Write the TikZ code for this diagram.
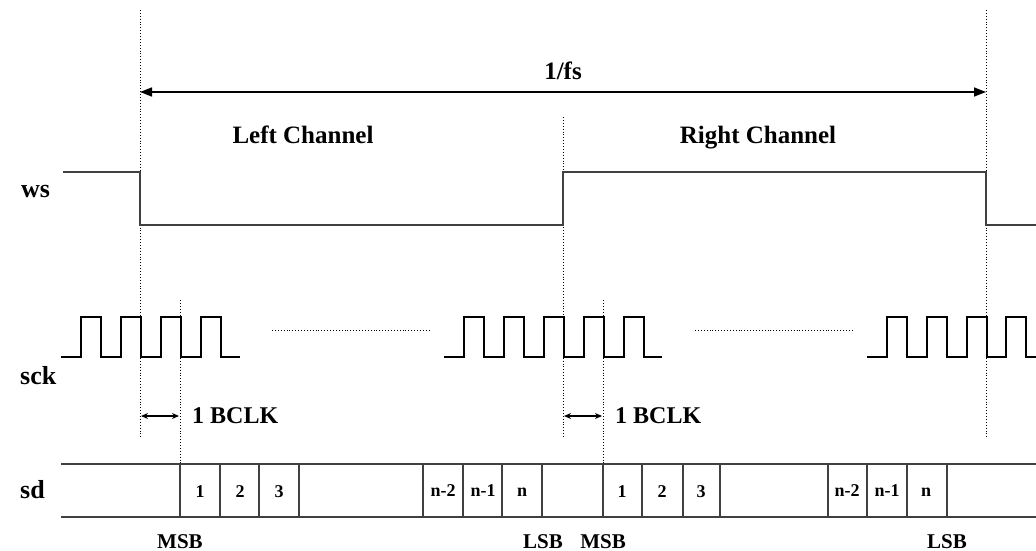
\documentclass[tikz,border=0pt]{standalone}
\usepackage{fontspec}
\setmainfont{Liberation Serif}
\usetikzlibrary{arrows.meta}
\begin{document}
\begin{tikzpicture}[x=1pt,y=-1pt,
  lbl/.style={font=\bfseries\fontsize{25}{28}\selectfont, inner sep=0pt, anchor=base},
  sig/.style={font=\bfseries\fontsize{26}{30}\selectfont, inner sep=0pt, anchor=base west},
  bclk/.style={font=\bfseries\fontsize{24}{28}\selectfont, inner sep=0pt, anchor=west},
  bit/.style={font=\bfseries\fontsize{18}{20}\selectfont, inner sep=0pt, anchor=base},
  msb/.style={font=\bfseries\fontsize{21}{24}\selectfont, inner sep=0pt, anchor=base},
  wsline/.style={draw=black!75, line width=2pt},
  sckline/.style={draw=black, line width=1.4pt},
  sdline/.style={draw=black!75, line width=1.6pt},
  guide/.style={draw=black, line width=0.9pt, dotted},
  bigarrow/.style={draw=black, line width=1.4pt, {Triangle[length=12pt,width=9pt]}-{Triangle[length=12pt,width=9pt]}},
  smallarrow/.style={draw=black, line width=1.2pt, {Stealth[length=7pt,width=6pt]}-{Stealth[length=7pt,width=6pt]}}
]
\useasboundingbox (0,0) rectangle (1036,551);
\fill[white] (0,0) rectangle (1036,551);

% guide lines
\draw[guide] (140,10) -- (140,437);
\draw[guide] (563,117) -- (563,437);
\draw[guide] (986,10) -- (986,437);
\draw[guide] (180,300) -- (180,464);
\draw[guide] (603,300) -- (603,464);
\draw[guide] (272,330) -- (430,330);
\draw[guide] (695,330) -- (853,330);

% 1/fs
\coordinate (fsL) at (140,92);
\coordinate (fsR) at (986,92);
\draw[bigarrow] (fsL) -- (fsR);
\node[lbl] (fs) at (563,80) {1/fs};
\node[lbl] (left) at (303,143) {Left Channel};
\node[lbl] (right) at (758,143) {Right Channel};

% ws
\node[sig] (ws) at (21,197) {ws};
\draw[wsline] (63,172) -- (140,172) -- (140,225) -- (563,225) -- (563,172) -- (986,172) -- (986,225) -- (1036,225);

% sck
\node[sig] (sck) at (20,384) {sck};
\draw[sckline] (61,357) -- (81,357)
  \foreach \x in {81,121,161,201} { -- (\x,357) -- (\x,317) -- (\x+20,317) -- (\x+20,357) } -- (240,357);
\draw[sckline] (444,357) -- (464,357)
  \foreach \x in {464,504,544,584,624} { -- (\x,357) -- (\x,317) -- (\x+20,317) -- (\x+20,357) } -- (662,357);
\draw[sckline] (867,357) -- (887,357)
  \foreach \x in {887,927,967,1006} { -- (\x,357) -- (\x,317) -- (\x+20,317) -- (\x+20,357) } -- (1036,357);

% 1 BCLK
\coordinate (b1L) at (141,416);
\coordinate (b1R) at (179,416);
\draw[smallarrow] (b1L) -- (b1R);
\node[bclk] (bc1) at (192,416) {1 BCLK};
\coordinate (b2L) at (564,416);
\coordinate (b2R) at (602,416);
\draw[smallarrow] (b2L) -- (b2R);
\node[bclk] (bc2) at (615,416) {1 BCLK};

% sd
\node[sig] (sd) at (20,498) {sd};
\draw[sdline] (61,464) -- (1036,464);
\draw[sdline] (61,517) -- (1036,517);
\foreach \x in {180,220,259,299,423,463,502,542,603,642,683,720,828,867,907,947}
  \draw[sdline] (\x,464) -- (\x,517);
\node[bit] (l1) at (200,497) {1};
\node[bit] (l2) at (240,497) {2};
\node[bit] (l3) at (279,497) {3};
\node[bit] (ln2) at (443,496) {n-2};
\node[bit] (ln1) at (483,496) {n-1};
\node[bit] (ln) at (522,496) {n};
\node[bit] (r1) at (622,497) {1};
\node[bit] (r2) at (662,497) {2};
\node[bit] (r3) at (701,497) {3};
\node[bit] (rn2) at (847,496) {n-2};
\node[bit] (rn1) at (887,496) {n-1};
\node[bit] (rn) at (926,496) {n};

\node[msb] (m1) at (180,548) {MSB};
\node[msb] (s1) at (543,548) {LSB};
\node[msb] (m2) at (603,548) {MSB};
\node[msb] (s2) at (947,548) {LSB};
\end{tikzpicture}
\end{document}
